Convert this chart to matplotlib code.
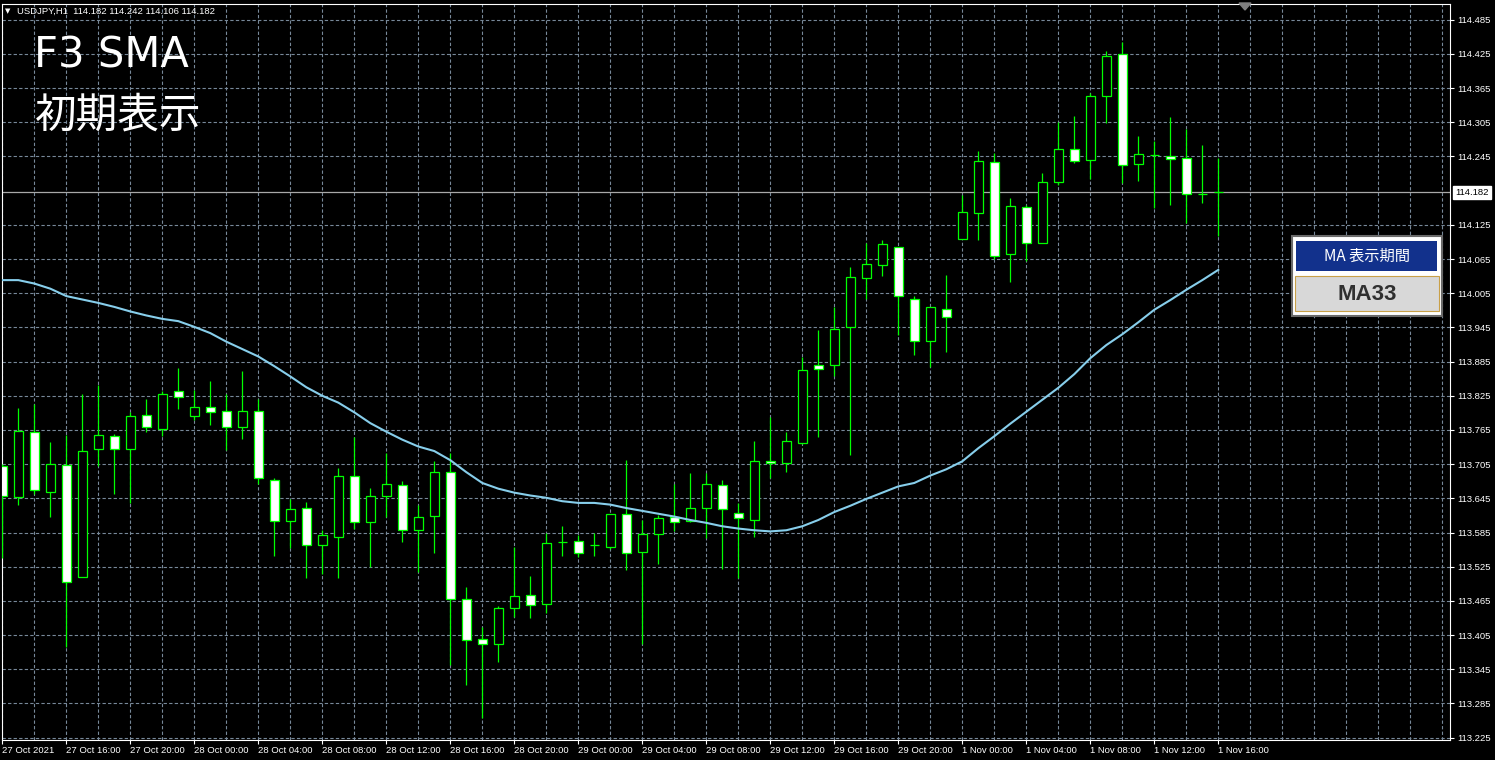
"""
MT4-style USDJPY H1 candlestick chart with a 33-period SMA overlay.
Saves out.png (1495x760).
"""

import matplotlib
matplotlib.use("Agg")   # headless
import matplotlib.pyplot as plt
from matplotlib.patches import Rectangle, Polygon
import numpy as np

W, H = 1495, 760

GREEN     = "#00FF00"
GRID_COL  = "#778899"
SMA_COL   = "#87CEEB"
JP_FONT   = ["Noto Sans CJK JP", "DejaVu Sans"]
TICK_FONT = ["Liberation Sans", "DejaVu Sans"]
TICK_SIZE = 6.8

# hourly bars, 27 Oct 12:00 -> 1 Nov 16:00 (weekend skipped)
opens = [
    113.701, 113.647, 113.761, 113.657, 113.703, 113.507, 113.731, 113.754, 113.731, 113.791,
    113.767, 113.833, 113.790, 113.805, 113.798, 113.771, 113.798, 113.677, 113.606, 113.628,
    113.563, 113.577, 113.684, 113.603, 113.650, 113.668, 113.589, 113.614, 113.691, 113.468,
    113.398, 113.389, 113.452, 113.475, 113.459, 113.568, 113.571, 113.563, 113.560, 113.617,
    113.550, 113.582, 113.612, 113.605, 113.628, 113.668, 113.620, 113.607, 113.710, 113.707,
    113.743, 113.879, 113.879, 113.945, 114.031, 114.054, 114.087, 113.994, 113.921, 113.978,
    114.101, 114.146, 114.235, 114.073, 114.156, 114.094, 114.201, 114.258, 114.238, 114.352,
    114.424, 114.231, 114.248, 114.245, 114.242, 114.180, 114.182,
]
highs = [
    113.705, 113.803, 113.811, 113.744, 113.756, 113.829, 113.844, 113.758, 113.797, 113.819,
    113.834, 113.874, 113.836, 113.851, 113.829, 113.869, 113.819, 113.681, 113.643, 113.638,
    113.589, 113.698, 113.753, 113.663, 113.724, 113.675, 113.633, 113.711, 113.724, 113.489,
    113.419, 113.456, 113.560, 113.509, 113.584, 113.597, 113.581, 113.584, 113.617, 113.712,
    113.607, 113.616, 113.671, 113.689, 113.689, 113.678, 113.637, 113.745, 113.787, 113.761,
    113.893, 113.940, 113.980, 114.051, 114.093, 114.098, 114.087, 114.000, 113.980, 114.037,
    114.177, 114.255, 114.251, 114.172, 114.160, 114.216, 114.306, 114.316, 114.356, 114.430,
    114.446, 114.281, 114.272, 114.314, 114.293, 114.265, 114.242,
]
lows = [
    113.540, 113.633, 113.653, 113.613, 113.384, 113.507, 113.701, 113.653, 113.636, 113.762,
    113.754, 113.802, 113.783, 113.774, 113.730, 113.749, 113.671, 113.544, 113.558, 113.505,
    113.512, 113.505, 113.592, 113.525, 113.612, 113.569, 113.516, 113.549, 113.353, 113.317,
    113.260, 113.358, 113.437, 113.435, 113.444, 113.544, 113.542, 113.543, 113.556, 113.519,
    113.389, 113.530, 113.587, 113.603, 113.575, 113.521, 113.506, 113.578, 113.680, 113.692,
    113.740, 113.753, 113.860, 113.721, 113.994, 114.036, 113.931, 113.896, 113.875, 113.901,
    114.100, 114.098, 114.065, 114.025, 114.062, 114.094, 114.195, 114.233, 114.205, 114.304,
    114.198, 114.202, 114.154, 114.159, 114.129, 114.164, 114.106,
]
closes = [
    113.649, 113.763, 113.659, 113.705, 113.499, 113.728, 113.756, 113.731, 113.789, 113.771,
    113.829, 113.823, 113.805, 113.797, 113.770, 113.798, 113.680, 113.605, 113.626, 113.563,
    113.580, 113.684, 113.603, 113.649, 113.670, 113.589, 113.612, 113.692, 113.468, 113.396,
    113.389, 113.452, 113.473, 113.457, 113.566, 113.568, 113.549, 113.563, 113.617, 113.549,
    113.582, 113.610, 113.603, 113.628, 113.671, 113.626, 113.610, 113.710, 113.707, 113.745,
    113.870, 113.872, 113.943, 114.033, 114.056, 114.091, 114.000, 113.922, 113.980, 113.963,
    114.148, 114.237, 114.071, 114.158, 114.093, 114.200, 114.258, 114.237, 114.352, 114.421,
    114.230, 114.249, 114.248, 114.240, 114.179, 114.180, 114.182,
]
sma33 = [
    114.028, 114.028, 114.022, 114.013, 114.000, 113.994, 113.988, 113.981, 113.973, 113.966,
    113.960, 113.956, 113.946, 113.935, 113.920, 113.907, 113.894, 113.877, 113.859, 113.840,
    113.825, 113.813, 113.796, 113.777, 113.762, 113.748, 113.736, 113.728, 113.712, 113.691,
    113.672, 113.662, 113.655, 113.650, 113.646, 113.640, 113.637, 113.637, 113.634, 113.628,
    113.623, 113.618, 113.613, 113.607, 113.602, 113.596, 113.592, 113.589, 113.587, 113.589,
    113.596, 113.607, 113.621, 113.632, 113.644, 113.655, 113.666, 113.672, 113.685, 113.696,
    113.710, 113.733, 113.754, 113.776, 113.797, 113.818, 113.839, 113.863, 113.891, 113.914,
    113.933, 113.954, 113.976, 113.993, 114.011, 114.028, 114.046,
]

time_labels = [
    "27 Oct 2021", "27 Oct 16:00", "27 Oct 20:00", "28 Oct 00:00", "28 Oct 04:00",
    "28 Oct 08:00", "28 Oct 12:00", "28 Oct 16:00", "28 Oct 20:00", "29 Oct 00:00",
    "29 Oct 04:00", "29 Oct 08:00", "29 Oct 12:00", "29 Oct 16:00", "29 Oct 20:00",
    "1 Nov 00:00", "1 Nov 04:00", "1 Nov 08:00", "1 Nov 12:00", "1 Nov 16:00",
]
price_ticks = [
    113.225, 113.285, 113.345, 113.405, 113.465, 113.525, 113.585, 113.645,
    113.705, 113.765, 113.825, 113.885, 113.945, 114.005, 114.065, 114.125,
    114.245, 114.305, 114.365, 114.425, 114.485,
]
last_price = 114.182
header = "USDJPY,H1  114.182 114.242 114.106 114.182"


def fig_box(x, y, w, h, **kw):
    """Rectangle given in pixel coords (origin top-left)."""
    return Rectangle((x / W, 1 - (y + h) / H), w / W, h / H,
                     transform=fig.transFigure, **kw)


fig = plt.figure(figsize=(W / 100, H / 100), dpi=100, facecolor="black")
ax = fig.add_axes([2 / W, 20 / H, 1448 / W, 736 / H])
ax.set_facecolor("black")

n = len(opens)
xs = np.arange(n)
o = np.array(opens)
c = np.array(closes)

ax.set_xlim((2 - 2.3) / 16, (1450 - 2.3) / 16)
ax.set_ylim(113.2209, 114.5126)

# grid
ax.set_yticks(price_ticks)
ax.set_xticks(xs[::4])
ax.set_xticks(np.arange(2, 91, 2), minor=True)
ax.grid(which="both", axis="x", color=GRID_COL, linestyle=(0, (3, 2)), lw=0.8, zorder=0)
ax.grid(which="major", axis="y", color=GRID_COL, linestyle=(0, (3, 2)), lw=0.8, zorder=0)
ax.set_axisbelow(True)

# candles
ax.vlines(xs, lows, highs, color=GREEN, lw=0.9, zorder=3)
fill = np.where(c > o, "black", "white")
ax.bar(xs, np.abs(c - o), bottom=np.minimum(o, c), width=0.56,
       color=fill, edgecolor=GREEN, linewidth=0.9, zorder=4)

# SMA
ax.plot(xs, sma33, color=SMA_COL, lw=1.5, zorder=5)

# bid line + label
ax.axhline(last_price, color="#a8a8a8", lw=0.9, zorder=2)
ax.annotate(f"{last_price:.3f}", xy=(1, last_price), xycoords=("axes fraction", "data"),
            xytext=(3.5, 0), textcoords="offset points", va="center", ha="left",
            fontsize=TICK_SIZE, family=TICK_FONT, color="black",
            bbox=dict(boxstyle="square,pad=0.25", fc="white", ec="white"),
            annotation_clip=False)

# axes styling
for sp in ax.spines.values():
    sp.set_color("white")
    sp.set_linewidth(0.8)
ax.yaxis.tick_right()
ax.tick_params(axis="y", colors="white", length=3, width=0.8, pad=2, labelsize=TICK_SIZE)
ax.set_yticklabels([f"{p:.3f}" for p in price_ticks], family=TICK_FONT)
ax.tick_params(axis="x", which="major", colors="white", length=3, width=0.8, pad=1.5,
               labelsize=TICK_SIZE)
ax.tick_params(axis="x", which="minor", length=0)
ax.set_xticklabels(time_labels, ha="left", family=TICK_FONT)

# chart-shift marker at the top
fig.add_artist(Polygon([(1239 / W, 1 - 3 / H), (1251 / W, 1 - 3 / H), (1245 / W, 1 - 10 / H)],
                       closed=True, transform=fig.transFigure, color="#808080"))

# header + titles
fig.text(5 / W, 1 - 11 / H, "▼", color="white", fontsize=5, family="DejaVu Sans", va="center")
fig.text(17 / W, 1 - 11 / H, header, color="white", fontsize=TICK_SIZE, family=TICK_FONT,
         va="center")
fig.text(34 / W, 1 - 67 / H, "F3 SMA", color="white", fontsize=30, family="DejaVu Sans",
         va="baseline")
fig.text(35 / W, 1 - 128 / H, "初期表示", color="white", fontsize=30, family=JP_FONT,
         va="baseline")

# MA period panel
fig.add_artist(fig_box(1292, 236, 150, 80, fc="white", ec="#6a6a6a", lw=1.5))
fig.add_artist(fig_box(1296, 241, 141, 30, fc="#12318c", ec="none"))
fig.add_artist(fig_box(1295, 276, 144, 35, fc="#d8d8d8", ec="#c8a048", lw=0.8))
fig.text(1366.5 / W, 1 - 256 / H, "MA 表示期間", color="white", fontsize=11,
         family=JP_FONT, ha="center", va="center")
fig.text(1367 / W, 1 - 294 / H, "MA33", color="#303030", fontsize=16, fontweight="bold",
         family=["Liberation Sans", "DejaVu Sans"], ha="center", va="center")

fig.savefig("out.png", dpi=100, facecolor="black")
